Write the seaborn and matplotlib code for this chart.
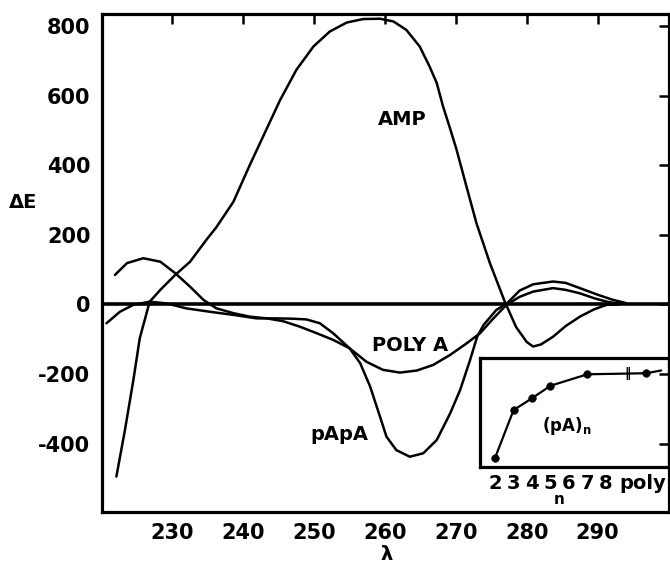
import matplotlib
matplotlib.use("Agg")
import numpy as np
import pandas as pd
import seaborn as sns
import matplotlib.pyplot as plt

# ---------------- data ----------------
amp_wl = [222.1, 223.3, 224.5, 225.4, 226.8, 228.3, 230.4, 232.5, 234.8, 236.2,
          238.6, 240.9, 243.3, 245.2, 247.5, 249.9, 252.2, 254.6, 256.9, 259.3,
          261.2, 263.0, 264.9, 266.3, 267.3, 268.2, 269.2, 270.1, 271.5, 272.9,
          274.8, 276.9, 278.5, 280.0, 280.9, 282.0, 283.7, 285.5, 287.5, 289.5,
          291.3, 293.0]
amp_de = [-495, -362, -217, -97, 8, 42, 85, 123, 186, 222,
          295, 400, 505, 588, 675, 742, 785, 811, 821, 822,
          814, 790, 742, 684, 637, 569, 505, 445, 339, 234,
          119, 8, -65, -108, -121, -115, -93, -62, -35, -14,
          -1, 0]

polya_wl = [221.9, 223.6, 225.9, 228.3, 230.4, 232.5, 234.4, 236.2, 238.6,
            240.9, 243.3, 245.6, 248.0, 250.4, 252.7, 255.0, 257.4, 259.7,
            262.1, 264.5, 266.8, 269.2, 271.5, 273.4, 275.3, 277.2, 279.0,
            280.9, 283.7, 285.5, 287.5, 289.5, 291.3, 293.0]
polya_de = [85, 119, 133, 123, 90, 51, 13, -11, -25,
            -35, -40, -48, -64, -83, -102, -126, -165, -188,
            -196, -190, -174, -145, -112, -83, -40, 0, 22,
            37, 47, 42, 32, 18, 8, 2]

papa_wl = [220.7, 222.6, 224.5, 226.8, 229.2, 231.9, 235.3, 238.6, 241.9, 244.4,
           247.0, 248.9, 250.8, 252.7, 255.0, 256.5, 257.9, 259.3, 260.2, 261.6,
           263.5, 265.4, 267.3, 269.2, 270.6, 272.0, 273.0, 273.9, 275.7, 277.2,
           279.0, 280.9, 283.7, 285.5, 287.5, 290.0, 292.2, 294.0]
papa_de = [-54, -21, -1, 8, 3, -11, -21, -30, -40, -40,
           -41, -43, -54, -83, -126, -169, -236, -323, -380, -419,
           -438, -428, -390, -313, -246, -160, -93, -59, -16, 3,
           40, 58, 66, 62, 47, 28, 13, 4]

x_ticks = [230, 240, 250, 260, 270, 280, 290]
y_ticks = [800, 600, 400, 200, 0, -200, -400]
y_ticklabels = ["800", "600", "400", "200", "0", "-200", "-400"]

# inset: (pA)n minimum vs chain length
inset_pos = [2, 3, 4, 5, 7, 10.2]
inset_val = [-441, -304, -270, -234, -201, -198]
inset_line_pos = [2, 3, 4, 5, 7, 10.2, 11.0]
inset_line_val = [-441, -304, -270, -234, -201, -198, -190]
inset_tick_pos = [2, 3, 4, 5, 6, 7, 8, 10]
inset_ticklabels = ["2", "3", "4", "5", "6", "7", "8", "poly"]

# ---------------- figure ----------------
sns.set_style("white")
plt.rcParams["font.family"] = ["DejaVu Sans"]
plt.rcParams["font.weight"] = "bold"
plt.rcParams["text.color"] = "black"
plt.rcParams["axes.labelcolor"] = "black"
plt.rcParams["xtick.color"] = "black"
plt.rcParams["ytick.color"] = "black"

W, H = 670, 563
fig = plt.figure(figsize=(W / 100, H / 100), dpi=100)
L, R, T, B = 101.5, 668.5, 13.5, 512.0
ax = fig.add_axes([L / W, 1 - B / H, (R - L) / W, (B - T) / H])

lw = 1.8
for wl, de in [(amp_wl, amp_de), (polya_wl, polya_de), (papa_wl, papa_de)]:
    df = pd.DataFrame({"wl": wl, "de": de})
    sns.lineplot(data=df, x="wl", y="de", ax=ax, color="black", lw=lw,
                 sort=False, estimator=None)

ax.axhline(0, color="black", lw=2.6, zorder=3)

ax.set_xlim(220, 300)
ax.set_ylim(-597, 837)
ax.set_xticks(x_ticks)
ax.set_xticklabels([str(t) for t in x_ticks])
ax.set_yticks(y_ticks)
ax.set_yticklabels(y_ticklabels)
ax.tick_params(direction="in", top=True, right=True, length=7, width=1.8,
               labelsize=15, pad=8, colors="black")
for s in ax.spines.values():
    s.set_linewidth(2.3)
    s.set_color("black")

ax.set_xlabel("λ", fontsize=14, fontweight="bold", color="black")
ax.set_ylabel("ΔE", fontsize=14, fontweight="bold", rotation=0,
              ha="center", va="center", color="black")
ax.xaxis.set_label_coords((387 - L) / (R - L), (B - 545) / (B - T))
ax.yaxis.set_label_coords((23 - L) / (R - L), (B - 203) / (B - T))

ax.text(262.4, 531, "AMP", fontsize=14, fontweight="bold", ha="center", va="center")
ax.text(263.5, -119, "POLY A", fontsize=14, fontweight="bold", ha="center", va="center")
ax.text(253.5, -375, "pApA", fontsize=14, fontweight="bold", ha="center", va="center")

# ---------------- inset ----------------
iL, iR, iT, iB = 480, 668.5, 358.3, 466.7
ins = fig.add_axes([iL / W, 1 - iB / H, (iR - iL) / W, (iB - iT) / H])
ins.set_facecolor("none")
dfl = pd.DataFrame({"n": inset_line_pos, "v": inset_line_val})
sns.lineplot(data=dfl, x="n", y="v", ax=ins, color="black", lw=1.6,
             sort=False, estimator=None)
dfp = pd.DataFrame({"n": inset_pos, "v": inset_val})
sns.scatterplot(data=dfp, x="n", y="v", ax=ins, color="black", s=30,
                edgecolor="black", zorder=4)
ins.set_xlim(1.18, 11.4)
ins.set_ylim(-467, -155)
ins.set_xticks(inset_tick_pos)
ins.set_xticklabels(inset_ticklabels)
ins.set_xticks([9.25], minor=True)
ins.set_yticks([])
ins.set_xlabel("")
ins.set_ylabel("")
ins.tick_params(axis="x", which="major", length=0, pad=5, labelsize=14,
                colors="black")
ins.tick_params(axis="x", which="minor", direction="in", length=5, width=1.5)
for s in ins.spines.values():
    s.set_linewidth(2.3)
    s.set_color("black")
ins.text(9.2, -199, "‖", fontsize=9, fontweight="bold", ha="center", va="center")
ins.text(0.46, 0.38, r"(pA)$_\mathbf{n}$", transform=ins.transAxes,
         fontsize=12, fontweight="bold", ha="center", va="center")
fig.text(559 / W, 1 - 499 / H, "n", fontsize=11, fontweight="bold",
         ha="center", va="center")

fig.savefig("out.png", dpi=100)
